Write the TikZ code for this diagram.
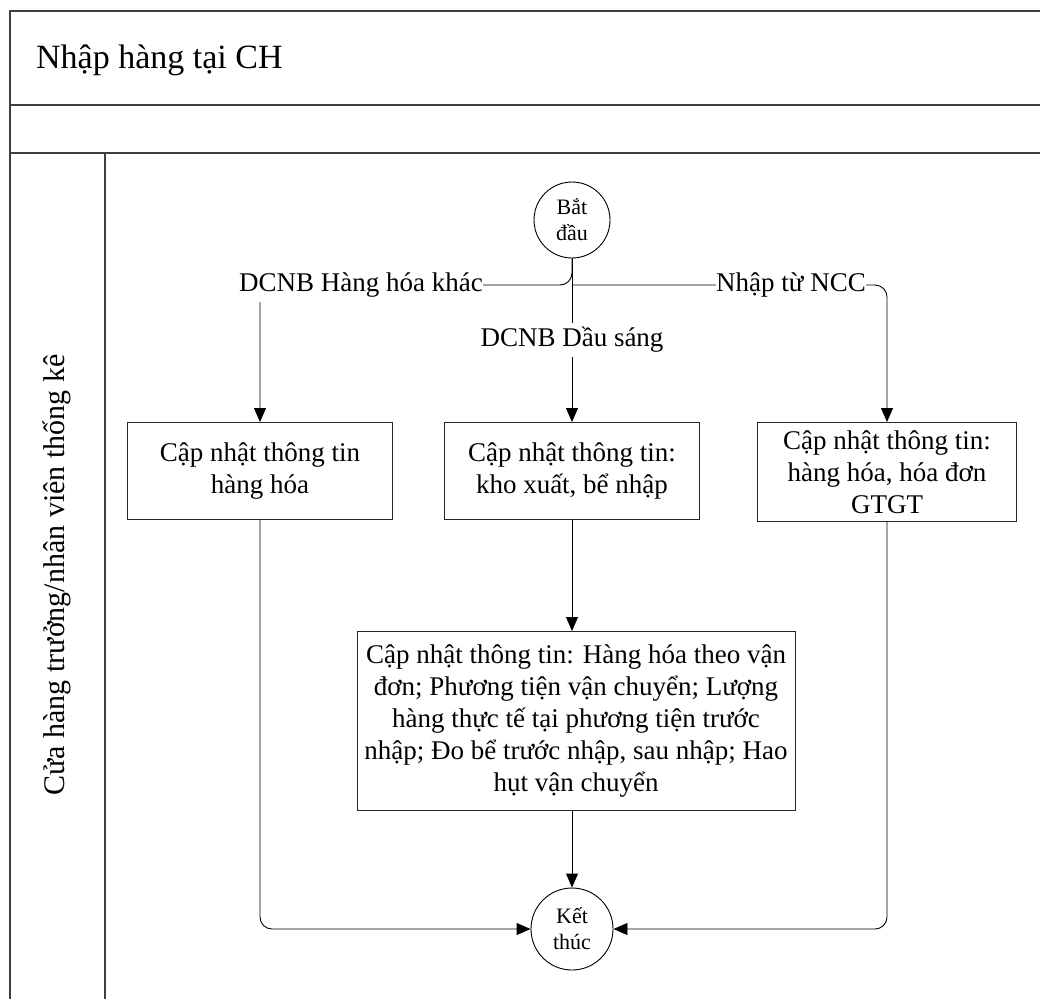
\documentclass[tikz,border=0pt]{standalone}
\usepackage{fontspec}
\setmainfont{Liberation Serif}
\usetikzlibrary{arrows.meta}

\begin{document}
\begin{tikzpicture}[x=1pt,y=-1pt,
    frame/.style={draw=black!75, line width=1.2pt},
    task/.style={draw=black!85, fill=white, align=center, inner sep=0pt, line width=1pt,
        font=\fontsize{27}{32}\selectfont},
    term/.style={draw, circle, fill=white, inner sep=0pt, align=center, line width=0.9pt,
        font=\fontsize{22}{26}\selectfont},
    flow/.style={-{Triangle[length=14pt,width=12pt]}, rounded corners=12pt, line width=0.9pt},
    lbl/.style={fill=white, inner sep=0pt, minimum height=34pt, font=\fontsize{27}{31}\selectfont}]
    \useasboundingbox (0,0) rectangle (1040,999);

    % Khung swimlane
    \draw[frame] (1040,11) -- (10,11) -- (10,999);
    \draw[frame] (10,105) -- (1040,105);
    \draw[frame] (10,153) -- (1040,153);
    \draw[frame] (105,153) -- (105,999);
    \node[anchor=west, inner sep=0pt, font=\fontsize{34}{40}\selectfont] (title) at (36,60) {Nhập hàng tại CH};
    \node[rotate=90, font=\fontsize{30}{34}\selectfont] (lane) at (57,575) {Cửa hàng trưởng/nhân viên thống kê};

    % Bat dau / ket thuc
    \node[term, minimum size=76pt] (start) at (572,220) {Bắt\\đầu};
    \node[term, minimum size=82pt] (finish) at (572,929) {Kết\\thúc};

    % Cac buoc
    \node[task, minimum width=265pt, minimum height=97pt] (goods) at (260,471) {Cập nhật thông tin\\hàng hóa};
    \node[task, minimum width=255pt, minimum height=97pt] (store) at (572,471) {Cập nhật thông tin:\\kho xuất, bể nhập};
    \node[task, minimum width=259pt, minimum height=99pt] (invoice) at (887,472) {Cập nhật thông tin:\\hàng hóa, hóa đơn\\GTGT};
    \node[task, minimum width=438pt, minimum height=179pt] (transport) at (576,721)
        {Cập nhật thông tin: Hàng hóa theo vận\\đơn; Phương tiện vận chuyển; Lượng\\hàng thực tế tại phương tiện trước\\nhập; Đo bể trước nhập, sau nhập; Hao\\hụt vận chuyển};

    % Luong
    \coordinate (split) at (572,285);
    \draw[flow] (start.south) -- (split) -| (goods.north);
    \draw[flow] (start.south) -- (store.north);
    \draw[flow] (split) -| (invoice.north);
    \draw[flow] (store.south) -- (store.south |- transport.north);
    \draw[flow] (transport.south -| finish.north) -- (finish.north);
    \draw[flow] (goods.south) |- (finish.west);
    \draw[flow] (invoice.south) |- (finish.east);

    % Nhan tren luong
    \node[lbl] (lother) at (361,285) {DCNB Hàng hóa khác};
    \node[lbl] (loil) at (572,340) {DCNB Dầu sáng};
    \node[lbl] (lncc) at (791,285) {Nhập từ NCC};
\end{tikzpicture}
\end{document}
